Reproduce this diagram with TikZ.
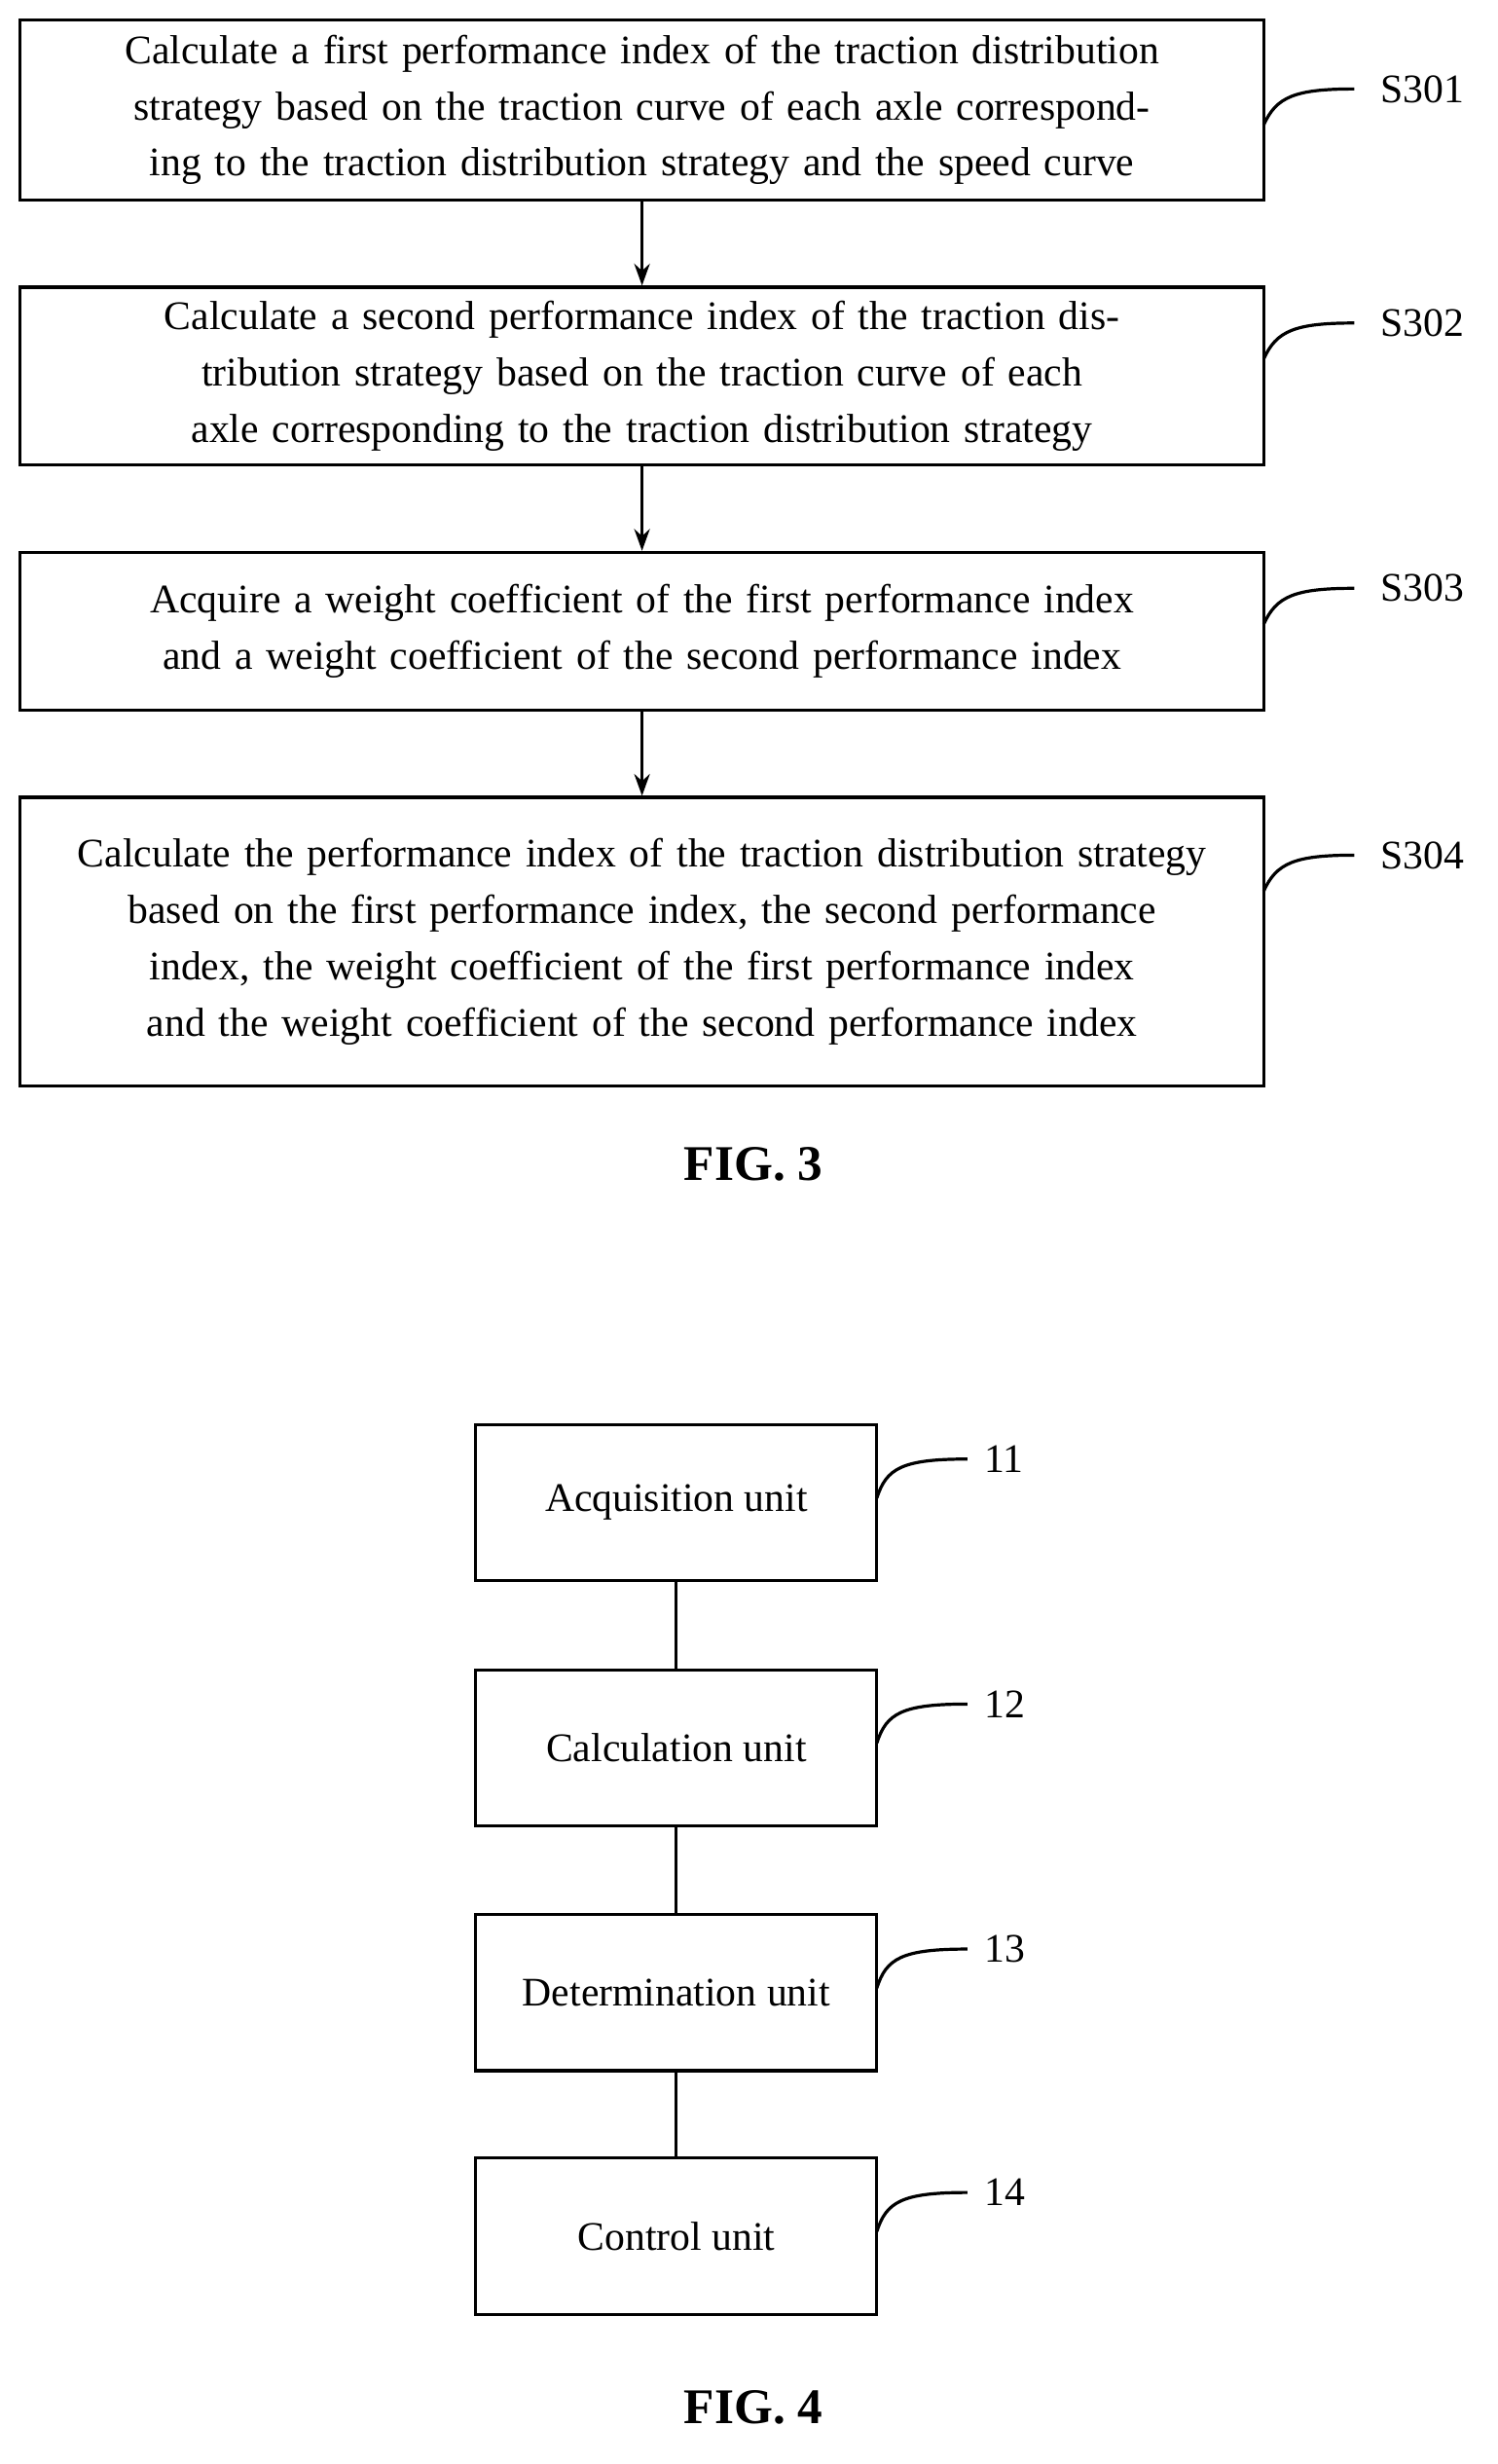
\documentclass[tikz,border=0pt]{standalone}
\usepackage{fontspec}
\setmainfont{Liberation Serif}
\usetikzlibrary{arrows.meta}
\begin{document}
\begin{tikzpicture}[x=0.5pt,y=-0.5pt,
  box/.style={draw,line width=1pt,inner sep=0pt,align=center,font=\fontsize{13}{18}\selectfont},
  lbl/.style={font=\fontsize{13}{16}\selectfont},
  arr/.style={-{Stealth[length=7pt,width=5pt]},line width=1pt},
  lead/.style={line width=1pt},
  figcap/.style={font=\fontsize{16}{18}\selectfont\bfseries}]
\useasboundingbox (0,0) rectangle (960,1579);
\node[box,minimum width=797*0.5pt,minimum height=115*0.5pt,text width=392pt] (a) at (411.5,70.5) {Calculate a first performance index of the traction distribution strategy based on the traction curve of each axle corresponding to the traction distribution strategy and the speed curve};
\node[box,minimum width=797*0.5pt,minimum height=114*0.5pt,text width=395pt] (b) at (411.5,241) {Calculate a second performance index of the traction distribution strategy based on the traction curve of each axle corresponding to the traction distribution strategy};
\node[box,minimum width=797*0.5pt,minimum height=101*0.5pt,text width=395pt] (c) at (411.5,404.5) {Acquire a weight coefficient of the first performance index and a weight coefficient of the second performance index};
\node[box,minimum width=797*0.5pt,minimum height=185*0.5pt,text width=365pt] (d) at (411.5,603.5) {Calculate the performance index of the traction distribution strategy based on the first performance index, the second performance index, the weight coefficient of the first performance index and the weight coefficient of the second performance index};
\draw[arr] (a) -- (b);
\draw[arr] (b) -- (c);
\draw[arr] (c) -- (d);
\node[lbl,anchor=west] (la) at (878,57) {S301};
\node[lbl,anchor=west] (lb) at (878,207) {S302};
\node[lbl,anchor=west] (lc) at (878,377) {S303};
\node[lbl,anchor=west] (ld) at (878,548) {S304};
\foreach \n/\y in {a/57,b/207,c/377,d/548}{
  \draw[lead] (810,\y+23) .. controls (818,\y+5) and (830,\y) .. (868,\y);
}
\node[figcap] (f3) at (483,746) {FIG. 3};
\foreach \n/\y/\t/\k in {u1/963/Acquisition unit/11,u2/1120/Calculation unit/12,u3/1277/Determination unit/13,u4/1433/Control unit/14}{
  \node[box,minimum width=257*0.5pt,minimum height=100*0.5pt] (\n) at (433.5,\y) {\t};
  \node[lbl,anchor=west] (l\n) at (624,\y-28) {\k};
  \draw[lead] (562,\y-3) .. controls (568,\y-22) and (578,\y-28) .. (620,\y-28);
}
\draw[line width=1pt] (u1) -- (u2) (u2) -- (u3) (u3) -- (u4);
\node[figcap] (f4) at (483,1543) {FIG. 4};
\end{tikzpicture}
\end{document}
